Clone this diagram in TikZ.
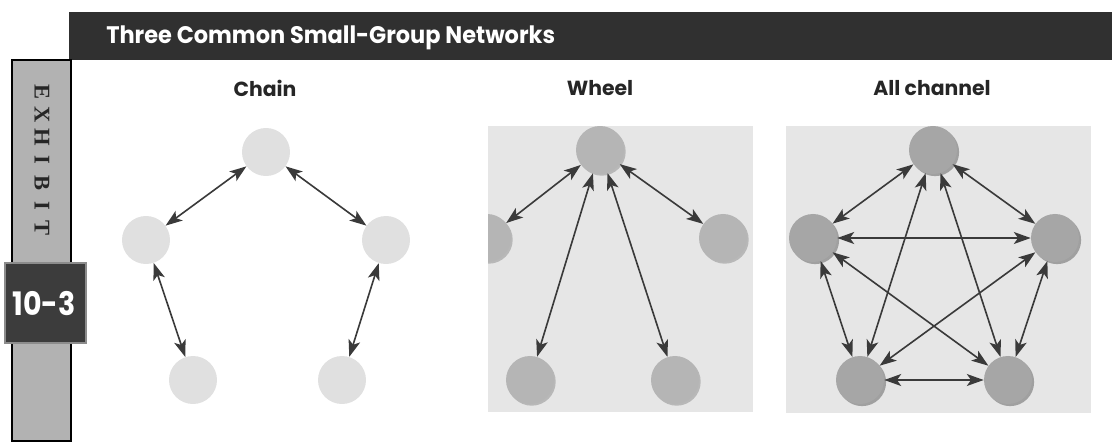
\documentclass[tikz,border=0pt]{standalone}
\usepackage{fontspec}
\setmainfont{Poppins}
\newfontfamily\slabfont{Liberation Serif}
\newfontfamily\narrowfont[FakeStretch=0.88]{Poppins}
\newfontfamily\titlefont[FakeStretch=0.94]{Poppins}
\usetikzlibrary{arrows.meta, shadows}

\definecolor{barGray}{HTML}{303030}
\definecolor{stripGray}{HTML}{B2B2B2}
\definecolor{tabGray}{HTML}{3C3C3C}
\definecolor{panelGray}{HTML}{E6E6E6}
\definecolor{linkGray}{HTML}{3A3A3A}

\begin{document}
\begin{tikzpicture}[
    x=0.025cm, y=-0.025cm,
    member/.style={circle, inner sep=0pt, minimum size=1.2cm},
    chainmember/.style={member, fill=black!12},
    wheelmember/.style={member, fill=black!29, drop shadow={shadow xshift=1.2pt, shadow yshift=-1.2pt, fill=black, opacity=0.2}},
    allmember/.style={member, fill=black!35, drop shadow={shadow xshift=1.5pt, shadow yshift=-1.5pt, fill=black, opacity=0.3}},
    link/.style={line width=1.15pt, draw=linkGray, {Stealth[length=12pt,width=8.5pt,inset=3pt]}-{Stealth[length=12pt,width=8.5pt,inset=3pt]}},
    netlabel/.style={font=\bfseries\fontsize{14.5}{16}\selectfont, text=black!85},
    exhletter/.style={font=\slabfont\bfseries\fontsize{16}{16}\selectfont, text=black!85, rotate=-90}
]
    \useasboundingbox (0,0) rectangle (1112,441);

    % Header and exhibit tab
    \fill[barGray] (69,12) rectangle (1112,60);
    \node[anchor=base west, inner sep=0pt, text=white, font=\titlefont\bfseries\fontsize{17}{18}\selectfont] (title) at (106,43) {Three Common Small-Group Networks};
    \filldraw[fill=stripGray, draw=black, line width=1.1pt] (12,60) rectangle (71,441);
    \foreach \l [count=\i] in {E,X,H,I,B,I,T}
        \node[exhletter] (exh\i) at (42,{92+22.7*(\i-1)}) {\l};
    \filldraw[fill=tabGray, draw=black!45, line width=0.8pt] (5,263) rectangle (86,343);
    \node[text=white, font=\narrowfont\bfseries\fontsize{23}{23}\selectfont] (exno) at (44,304) {10-3};

    % Labels
    \node[netlabel] (chainlbl) at (265,88) {Chain};
    \node[netlabel] (wheellbl) at (600,88) {Wheel};
    \node[netlabel] (alllbl) at (932,88) {All channel};

    % Chain
    \node[chainmember] (ct) at (266,152) {};
    \node[chainmember] (cl) at (146,240) {};
    \node[chainmember] (cr) at (386,240) {};
    \node[chainmember] (cbl) at (193,380) {};
    \node[chainmember] (cbr) at (342,380) {};
    \draw[link] (cl) -- (ct);
    \draw[link] (ct) -- (cr);
    \draw[link] (cl) -- (cbl);
    \draw[link] (cr) -- (cbr);

    % Wheel
    \fill[panelGray] (488,126) rectangle (753,412);
    \begin{scope}
        \clip (488,126) rectangle (753,412);
        \node[wheelmember] (wt) at (600,150) {};
        \node[wheelmember] (wl) at (487,238) {};
        \node[wheelmember] (wr) at (723,238) {};
        \node[wheelmember] (wbl) at (530,380) {};
        \node[wheelmember] (wbr) at (675,380) {};
        \foreach \m in {wl,wr,wbl,wbr}
            \draw[link] (wt) -- (\m);
    \end{scope}

    % All channel
    \fill[panelGray] (786,126) rectangle (1091,413);
    \node[allmember] (at) at (933,150) {};
    \node[allmember] (al) at (813,238) {};
    \node[allmember] (ar) at (1055,238) {};
    \node[allmember] (abl) at (860,380) {};
    \node[allmember] (abr) at (1008,380) {};
    \foreach \p/\q in {at/al,at/ar,at/abl,at/abr,al/ar,al/abl,al/abr,ar/abl,ar/abr,abl/abr}
        \draw[link] (\p) -- (\q);
\end{tikzpicture}
\end{document}
